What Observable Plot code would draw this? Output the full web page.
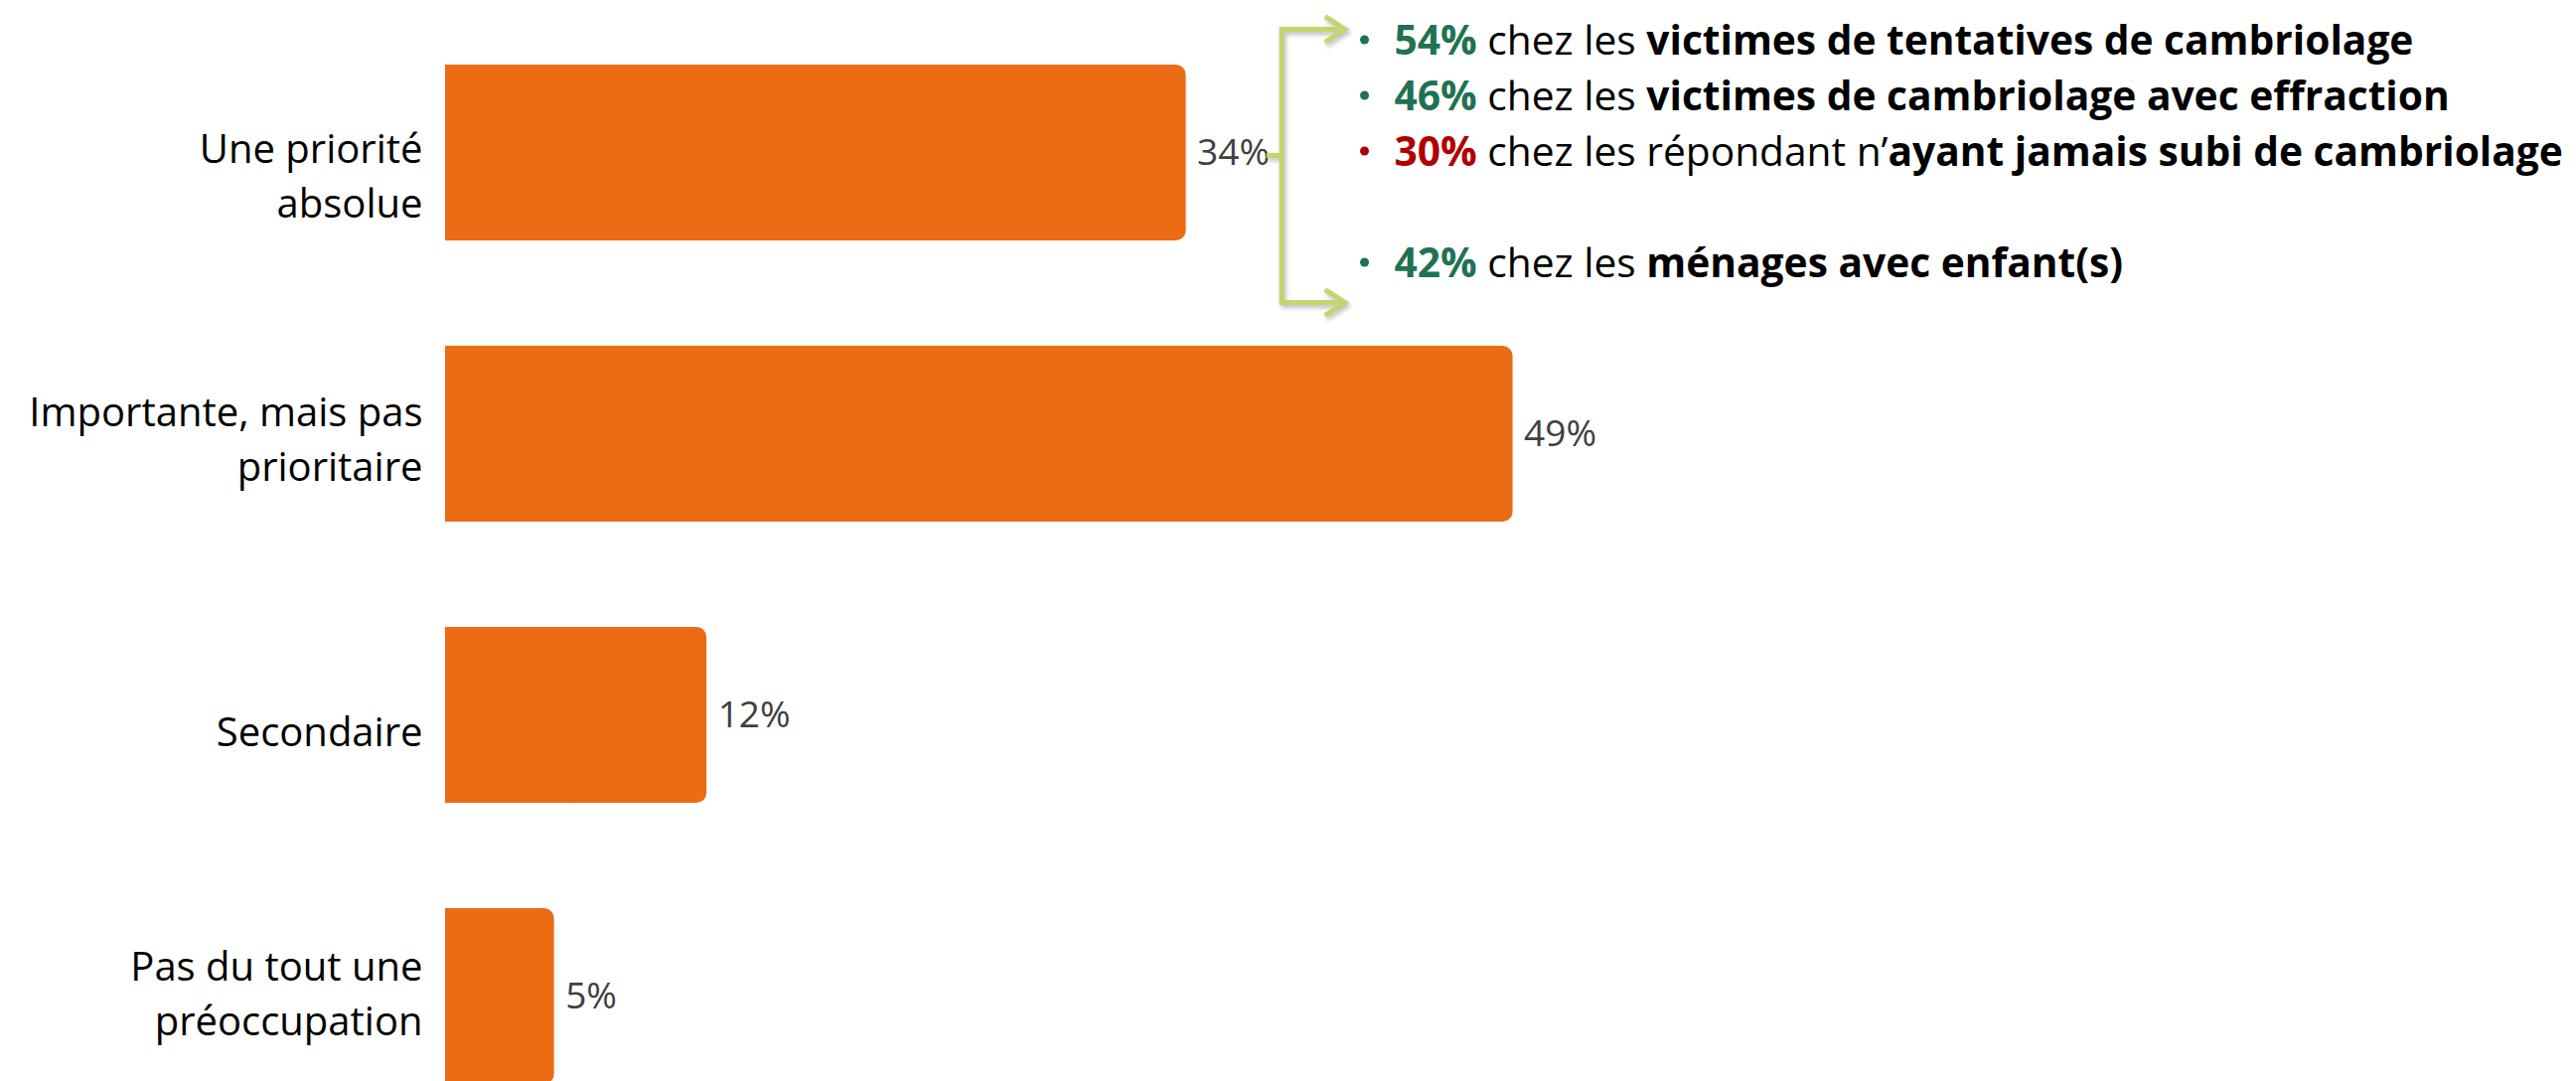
<!DOCTYPE html>
<html>
<head>
<meta charset="utf-8">
<script src="https://cdn.jsdelivr.net/npm/d3@7"></script>
<script src="https://cdn.jsdelivr.net/npm/@observablehq/plot@0.6"></script>
<style>
  html, body { margin: 0; padding: 0; background: #fff; overflow: hidden; }
  #chart svg { display: block; }
</style>
</head>
<body>
<div id="chart"></div>
<script>
// ---- Data ----
const categories = [
  "Une priorité absolue",
  "Importante, mais pas prioritaire",
  "Secondaire",
  "Pas du tout une préoccupation"
];
const categoryLabels = [
  "Une priorité\nabsolue",
  "Importante, mais pas\nprioritaire",
  "Secondaire",
  "Pas du tout une\npréoccupation"
];
const values = [34, 49, 12, 5];
const valueLabels = ["34%", "49%", "12%", "5%"];

// Annotation attached to the first bar
const notePcts = ["54%", "46%", "30%", "42%"];
const notePlain = ["chez les ", "chez les ", "chez les répondant n’", "chez les "];
const noteBold = [
  "victimes de tentatives de cambriolage",
  "victimes de cambriolage avec effraction",
  "ayant jamais subi de cambriolage",
  "ménages avec enfant(s)"
];
const noteTone = ["up", "up", "down", "up"];
const noteSlot = [0, 1, 2, 4];

// ---- Styles / layout ----
const ORANGE = "#EB6C15";
const GREEN = "#1F7252";
const RED = "#B00000";
const BRACKET = "#C3D56E";
const FONT = "'Open Sans', 'Noto Sans', sans-serif";
const LABEL_DY = [20, 2, 13, -6];

const rows = categories.map((c, i) => ({
  category: c, label: categoryLabels[i], value: values[i], text: valueLabels[i]
}));

const BULLET_X = 42.18;    // in % units
const NOTE_X = 43.55;      // in % units, start of the percentage
const LINE_STEP = 56;      // px between annotation lines

const noteMarks = notePcts.flatMap((p, i) => {
  const color = noteTone[i] === "up" ? GREEN : RED;
  const d = [{ category: categories[0], content: [p, notePlain[i], noteBold[i]].join("|") }];
  return [
    Plot.dot(d, {
      x: () => BULLET_X, y: "category", r: 4.5, fill: color, stroke: "none",
      dy: (noteSlot[i] - 2) * LINE_STEP - 2
    }),
    Plot.text(d, {
      x: () => NOTE_X, y: "category", text: "content", textAnchor: "start",
      fontSize: 40.7, fill: color, dy: (noteSlot[i] - 2) * LINE_STEP
    })
  ];
});

const labelMarks = rows.map((r, i) => Plot.text([r], {
  y: "category", x: 0, text: "label", textAnchor: "end",
  dx: -23, dy: LABEL_DY[i], fontSize: 40, lineHeight: 1.375, fill: "#000"
}));

const chart = Plot.plot({
  width: 2593,
  height: 1088,
  marginLeft: 0, marginRight: 0, marginTop: 0, marginBottom: 0,
  style: { fontFamily: FONT, background: "white" },
  x: { domain: [0, 100], range: [448, 2641], axis: null },
  y: { domain: categories, range: [63, 1093], paddingInner: 0.373, paddingOuter: 0, axis: null },
  marks: [
    Plot.barX(rows, { y: "category", x: "value", fill: ORANGE, rx: 10 }),
    Plot.barX(rows, { y: "category", x1: 0, x2: d => d.value / 2, fill: ORANGE }),
    ...labelMarks,
    Plot.text(rows, {
      y: "category", x: "value", text: "text", textAnchor: "start",
      dx: 11, fontSize: 37, fill: "#404040"
    }),
    ...noteMarks
  ]
});

document.getElementById("chart").appendChild(chart);

// Rich text for the annotation lines
d3.select(chart).selectAll("text").each(function () {
  const t = this.textContent;
  if (!t.includes("|")) return;
  const [p, plain, bold] = t.split("|");
  const sel = d3.select(this);
  sel.text(null);
  sel.append("tspan").attr("font-weight", 700).text(p);
  sel.append("tspan").attr("fill", "#000").text(" " + plain);
  sel.append("tspan").attr("fill", "#000").attr("font-weight", 700).text(bold);
});

// Bracket with arrows, positioned through the plot's scales
const sx = chart.scale("x"), sy = chart.scale("y");
const yc = sy.apply(categories[0]) + sy.bandwidth / 2;
const stubX = sx.apply(37.7), vX = sx.apply(38.4), tipX = sx.apply(41.3);
const topY = yc - 124, botY = yc + 151;
const path = [
  `M${stubX},${yc + 3}H${vX}`,
  `M${vX},${topY - 2.5}V${botY + 2.5}`,
  `M${vX},${topY}H${tipX}`,
  `M${vX},${botY}H${tipX}`,
  `M${tipX - 20},${topY - 13}L${tipX},${topY}L${tipX - 20},${topY + 13}`,
  `M${tipX - 20},${botY - 13}L${tipX},${botY}L${tipX - 20},${botY + 13}`
].join("");
d3.select(chart).append("path")
  .attr("d", path)
  .attr("fill", "none")
  .attr("stroke", BRACKET)
  .attr("stroke-width", 5)
  .style("filter", "drop-shadow(2px 3px 2px rgba(0,0,0,0.25))");
</script>
</body>
</html>
